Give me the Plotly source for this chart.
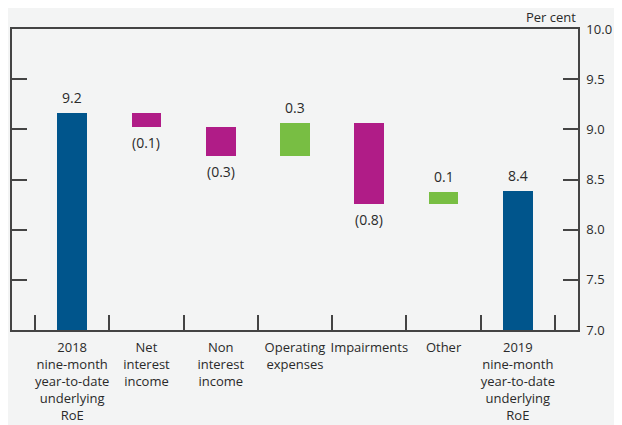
import plotly.graph_objects as go

# RoE bridge: 2018 -> 2019 nine-month year-to-date underlying RoE
categories = [
    "2018<br>nine-month<br>year-to-date<br>underlying<br>RoE",
    "Net<br>interest<br>income",
    "Non<br>interest<br>income",
    "Operating<br>expenses",
    "Impairments",
    "Other",
    "2019<br>nine-month<br>year-to-date<br>underlying<br>RoE",
]
kinds = ["total", "change", "change", "change", "change", "change", "total"]
values = [9.16, -0.14, -0.29, 0.33, -0.80, 0.12, 8.39]
labels = ["9.2", "(0.1)", "(0.3)", "0.3", "(0.8)", "0.1", "8.4"]

blue = "#00558c"
magenta = "#b01c87"
green = "#78be43"
bg = "#f3f4f4"
txt = "#2a2a2a"
axc = "#444444"

bases, heights, colors = [], [], []
level = 0
for k, v in zip(kinds, values):
    if k == "total":
        bases.append(0)
        heights.append(v)
        colors.append(blue)
        level = v
    else:
        bases.append(level)
        heights.append(v)
        colors.append(green if v > 0 else magenta)
        level = level + v

fig = go.Figure()
fig.add_trace(go.Bar(x=categories, y=heights, base=bases, marker_color=colors,
                     marker_line_width=0, width=0.4, hoverinfo="skip"))

for c, b, h, lab in zip(categories, bases, heights, labels):
    if h > 0:
        fig.add_annotation(x=c, y=b + h, text=lab, showarrow=False,
                           yanchor="bottom", yshift=4,
                           font=dict(size=14, color=txt))
    else:
        fig.add_annotation(x=c, y=b + h, text=lab, showarrow=False,
                           yanchor="top", yshift=-4,
                           font=dict(size=14, color=txt))

fig.add_annotation(x=1, y=1, xref="paper", yref="paper", text="Per cent",
                   showarrow=False, xanchor="right", yanchor="bottom",
                   yshift=1, font=dict(size=13, color=txt))

# page body has an 8px margin, so the figure is sized/offset to compensate
fig.update_layout(
    width=614, height=417,
    margin=dict(l=4, r=44, t=21, b=95, autoexpand=False),
    paper_bgcolor=bg, plot_bgcolor=bg,
    font=dict(family="Open Sans", size=13, color=txt),
    showlegend=False,
    bargap=0,
    xaxis=dict(
        type="category", categoryorder="array", categoryarray=categories,
        range=[-0.81, 6.81], automargin=False, tickangle=0,
        showline=True, linecolor=axc, linewidth=1.5, mirror=True,
        showgrid=False, zeroline=False,
        ticks="inside", tickson="boundaries", ticklen=15, tickwidth=1.5,
        tickcolor=axc, tickfont=dict(size=13, color=txt),
        ticklabelstandoff=5,
    ),
    yaxis=dict(
        range=[7, 10], dtick=0.5, tick0=7, tickformat=".1f",
        side="right", automargin=False,
        showline=True, linecolor=axc, linewidth=1.5, mirror="ticks",
        ticks="inside", ticklen=15, tickwidth=1.5, tickcolor=axc,
        showgrid=False, zeroline=False,
        tickfont=dict(size=13, color=txt),
        ticklabelstandoff=4,
    ),
)

fig.write_html("out.html")
